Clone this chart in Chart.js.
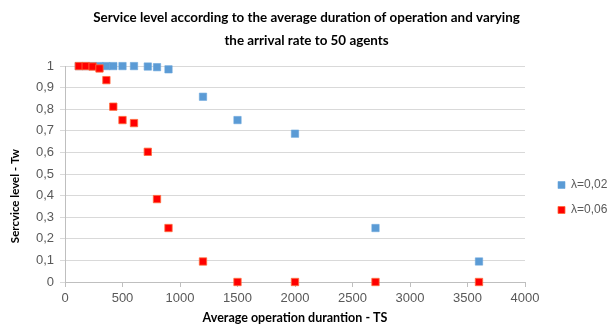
<!DOCTYPE html>
<html>
<head>
<meta charset="utf-8">
<script src="https://cdn.jsdelivr.net/npm/chart.js@4/dist/chart.umd.min.js"></script>
<style>
  html, body { margin: 0; padding: 0; background: #ffffff; }
  #wrap { width: 609px; height: 327px; position: relative; }
</style>
</head>
<body>
<div id="wrap"><canvas id="c"></canvas></div>
<script>
// Average operation duration (TS) for each simulated scenario
const durationsLow = [120, 180, 240, 300, 360, 420, 500, 600, 720, 800, 900, 1200, 1500, 2000, 2700, 3600];
const durationsHigh = [120, 180, 240, 300, 360, 420, 500, 600, 720, 800, 900, 1200, 1500, 2000, 2700, 3600];

// Service level (Tw) for arrival rate 0,02
const serviceLow = [1, 1, 1, 1, 1, 1, 1, 1, 0.998, 0.995, 0.985, 0.858, 0.75, 0.687, 0.25, 0.095];
// Service level (Tw) for arrival rate 0,06
const serviceHigh = [1, 1, 0.998, 0.989, 0.935, 0.812, 0.75, 0.736, 0.603, 0.384, 0.25, 0.095, 0, 0, 0, 0];

const seriesNames = ['λ=0,02', 'λ=0,06'];
const titleLines = ['Service level according to the average duration of operation and varying', 'the arrival rate to 50 agents'];
const xAxisTitle = 'Average operation durantion - TS';
const yAxisTitle = 'Sercvice level - Tw';

const toPoints = (xs, ys) => xs.map((x, i) => ({ x: x, y: ys[i] }));
const fmtComma = v => String(Math.round(v * 10) / 10).replace('.', ',');

const FONT = "'Liberation Sans', Arial, sans-serif";
const BOLD_FONT = "Lato, sans-serif";
const TICK_COLOR = '#595959';
const GRID_COLOR = '#d9d9d9';
const AXIS_COLOR = '#bfbfbf';

// Fixed plot frame: axis gutters and legend column
const LEGEND_WIDTH = 84;
const LEGEND_SHIFT_X = 20;
const LEGEND_SHIFT_Y = 32;
const Y_AXIS_WIDTH = 61;
const X_AXIS_HEIGHT = 43;
const Y_TITLE_X = 15;
const Y_TITLE_OFFSET = 22;

const frame = {
  id: 'frame',
  beforeUpdate(chart) {
    const lg = chart.legend;
    if (lg && !lg._fixedWidth) {
      const fit = lg.fit.bind(lg);
      lg.fit = function () { fit(); this.width = LEGEND_WIDTH; };
      lg._fixedWidth = true;
    }
  },
  afterLayout(chart) {
    const lg = chart.legend;
    if (!lg) return;
    lg.left += LEGEND_SHIFT_X;
    lg.right += LEGEND_SHIFT_X;
    lg.top += LEGEND_SHIFT_Y;
    lg.bottom += LEGEND_SHIFT_Y;
  },
  // vertical axis title, sitting a little below the middle of the value axis
  afterDraw(chart) {
    const y = chart.scales.y;
    const ctx = chart.ctx;
    ctx.save();
    ctx.translate(Y_TITLE_X, (y.top + y.bottom) / 2 + Y_TITLE_OFFSET);
    ctx.rotate(-Math.PI / 2);
    ctx.textAlign = 'center';
    ctx.textBaseline = 'middle';
    ctx.fillStyle = '#000000';
    ctx.font = 'bold 11.5px ' + BOLD_FONT;
    ctx.fillText(yAxisTitle, 0, 0);
    ctx.restore();
  }
};

new Chart(document.getElementById('c'), {
  type: 'scatter',
  plugins: [frame],
  data: {
    datasets: [
      {
        label: seriesNames[0],
        data: toPoints(durationsLow, serviceLow),
        order: 1,
        clip: false,
        pointStyle: 'rect',
        pointRadius: 5.2,
        pointHoverRadius: 5.2,
        backgroundColor: '#5b9bd5',
        borderColor: '#6aa6dc',
        borderWidth: 0.6
      },
      {
        label: seriesNames[1],
        data: toPoints(durationsHigh, serviceHigh),
        order: 0,
        clip: false,
        pointStyle: 'rect',
        pointRadius: 5.2,
        pointHoverRadius: 5.2,
        backgroundColor: '#ff0000',
        borderColor: '#ff6a3a',
        borderWidth: 0.8
      }
    ]
  },
  options: {
    responsive: true,
    maintainAspectRatio: false,
    animation: false,
    layout: { padding: { top: 6, left: 4, right: 0, bottom: 2 } },
    plugins: {
      title: {
        display: true,
        text: titleLines,
        color: '#000000',
        font: { family: BOLD_FONT, size: 13.4, weight: 'bold', lineHeight: 1.72 },
        padding: { top: 0, bottom: 14 }
      },
      legend: {
        position: 'right',
        align: 'center',
        labels: {
          usePointStyle: true,
          pointStyle: 'rect',
          boxWidth: 7,
          boxHeight: 7,
          padding: 13,
          color: TICK_COLOR,
          font: { family: FONT, size: 12 },
          sort: (a, b) => a.datasetIndex - b.datasetIndex
        }
      },
      tooltip: { enabled: false }
    },
    scales: {
      x: {
        type: 'linear',
        min: 0,
        max: 4000,
        afterFit: s => { s.height = X_AXIS_HEIGHT; },
        ticks: {
          stepSize: 500,
          color: TICK_COLOR,
          font: { family: FONT, size: 13 },
          padding: 4,
          maxRotation: 0,
          callback: v => String(v)
        },
        grid: {
          display: true,
          drawOnChartArea: false,
          drawTicks: true,
          tickLength: 5,
          color: AXIS_COLOR
        },
        border: { display: true, color: AXIS_COLOR },
        title: {
          display: true,
          text: xAxisTitle,
          color: '#000000',
          font: { family: BOLD_FONT, size: 12.5, weight: 'bold' },
          padding: { top: 4, bottom: 0 }
        }
      },
      y: {
        type: 'linear',
        min: 0,
        max: 1,
        afterFit: s => { s.width = Y_AXIS_WIDTH; },
        ticks: {
          stepSize: 0.1,
          color: TICK_COLOR,
          font: { family: FONT, size: 13 },
          padding: 6,
          callback: v => fmtComma(v)
        },
        grid: {
          color: GRID_COLOR,
          drawTicks: true,
          tickLength: 5,
          lineWidth: 1
        },
        border: { display: true, color: AXIS_COLOR },
        title: { display: false }
      }
    }
  }
});
</script>
</body>
</html>
